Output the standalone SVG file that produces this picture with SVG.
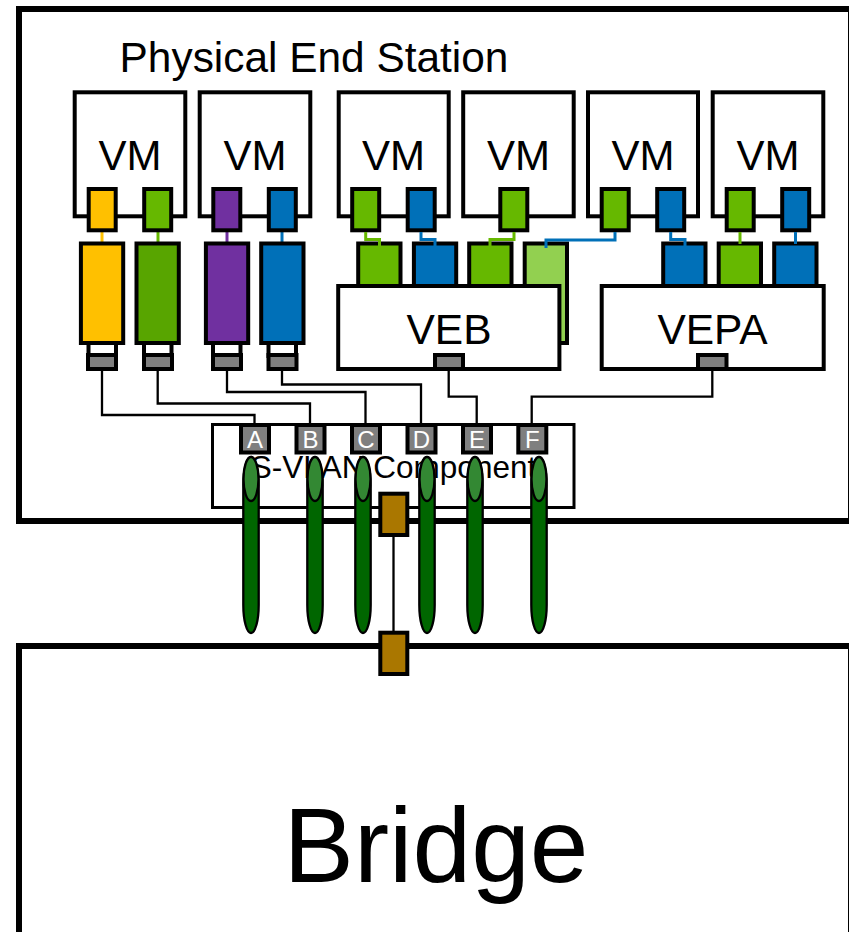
<svg xmlns="http://www.w3.org/2000/svg" width="849" height="932" viewBox="0 0 849 932">
<style>
text{font-family:"Liberation Sans",Arial,sans-serif;fill:#000;text-anchor:middle}
.b{stroke:#000;stroke-width:4}
.box{fill:#fff;stroke:#000;stroke-width:4}
.outer{fill:#fff;stroke:#000;stroke-width:6}
.vm{font-size:42px}
.sw{font-size:42.500px}
.y{fill:#ffc000}.g{fill:#66b800}.dg{fill:#58a500}.lg{fill:#92d050}.p{fill:#7030a0}.bl{fill:#0070b8}.gr{fill:#7f7f7f}.br{fill:#aa7700}
.w{fill:#fff}
.port{font-size:24px;fill:#fff}
.lk{fill:none;stroke:#000;stroke-width:2.300}
.cl{fill:none;stroke-width:3}
.pill{fill:#006600;stroke:#000;stroke-width:2.300}
.cap{fill:#338833;stroke:#000;stroke-width:2.300}
</style>
<g id="station"><rect class="outer" x="19" y="9" width="832" height="512"/><text x="314" y="72" font-size="42.400">Physical End Station</text></g>
<g id="bridge"><rect class="outer" x="19" y="646" width="832" height="300"/><text x="436" y="882" font-size="105.500">Bridge</text></g>
<g id="vm1"><rect class="box" x="74.700" y="92.300" width="110.600" height="124"/><text class="vm" x="130" y="170">VM</text></g>
<g id="vm2"><rect class="box" x="199.700" y="92.300" width="110.600" height="124"/><text class="vm" x="255" y="170">VM</text></g>
<g id="vm3"><rect class="box" x="338.700" y="92.300" width="110" height="124"/><text class="vm" x="393.500" y="170">VM</text></g>
<g id="vm4"><rect class="box" x="463.200" y="92.300" width="110.500" height="124"/><text class="vm" x="518.500" y="170">VM</text></g>
<g id="vm5"><rect class="box" x="588" y="92.300" width="110" height="124"/><text class="vm" x="643" y="170">VM</text></g>
<g id="vm6"><rect class="box" x="712.700" y="92.300" width="110.600" height="124"/><text class="vm" x="768" y="170">VM</text></g>
<g id="connectors">
<path class="cl" stroke="#ffc000" d="M102 232V243"/>
<path class="cl" stroke="#66b800" d="M158 232V243"/>
<path class="cl" stroke="#7030a0" d="M227 232V243"/>
<path class="cl" stroke="#0070b8" d="M282 232V243"/>
<path class="lk" d="M102 370V415H254.500V424"/>
<path class="lk" d="M157.700 370V403.500H310V424"/>
<path class="lk" d="M227 370V392H365.500V424"/>
<path class="lk" d="M282 370V384.500H421V424"/>
<path class="lk" d="M448.700 370V396.700H476.700V424"/>
<path class="lk" d="M712.300 370V396.700H531.700V424"/>
</g>
<g id="vnic-yellow"><rect class="b w" x="88.500" y="340" width="27.500" height="16"/><rect class="b y" x="80.900" y="243.500" width="42.300" height="99.500"/><rect class="b gr" x="88" y="355" width="28" height="14"/><rect class="b y" x="88.700" y="189" width="27" height="41.300"/></g>
<g id="vnic-green"><rect class="b w" x="144" y="340" width="27.500" height="16"/><rect class="b dg" x="136.500" y="243.500" width="42.300" height="99.500"/><rect class="b gr" x="144" y="355" width="28" height="14"/><rect class="b g" x="144.200" y="189" width="27" height="41.300"/></g>
<g id="vnic-purple"><rect class="b w" x="213" y="340" width="27.500" height="16"/><rect class="b p" x="205.900" y="243.500" width="42.300" height="99.500"/><rect class="b gr" x="213" y="355" width="28" height="14"/><rect class="b p" x="213.300" y="189" width="27" height="41.300"/></g>
<g id="vnic-blue"><rect class="b w" x="268.500" y="340" width="27.500" height="16"/><rect class="b bl" x="261.200" y="243.500" width="42.300" height="99.500"/><rect class="b gr" x="268.500" y="355" width="28" height="14"/><rect class="b bl" x="268.800" y="189" width="27" height="41.300"/></g>
<g id="veb-ports">
<rect class="b g" x="358.200" y="243.500" width="42.300" height="60"/>
<rect class="b bl" x="413.900" y="243.500" width="42.300" height="60"/>
<rect class="b g" x="469.200" y="243.500" width="42.300" height="60"/>
<rect class="b lg" x="524.700" y="243.500" width="42.300" height="99.500"/>
</g>
<g id="vepa-ports">
<rect class="b bl" x="663.200" y="243.500" width="42.300" height="60"/>
<rect class="b g" x="718.700" y="243.500" width="42.300" height="60"/>
<rect class="b bl" x="774.200" y="243.500" width="42.300" height="60"/>
</g>
<g id="veb"><rect class="box" x="338.200" y="286" width="221.200" height="83"/><text class="sw" x="449" y="344">VEB</text><rect class="b gr" x="435" y="355" width="28" height="14"/></g>
<g id="vepa"><rect class="box" x="601.700" y="286" width="222" height="83"/><text class="sw" x="712.500" y="344">VEPA</text><rect class="b gr" x="698" y="355" width="28.500" height="14"/></g>
<g id="vm-ports">
<rect class="b g" x="352.200" y="189" width="27" height="41.300"/>
<rect class="b bl" x="407.700" y="189" width="27" height="41.300"/>
<rect class="b g" x="500.300" y="189" width="27" height="41.300"/>
<rect class="b g" x="601.700" y="189" width="27" height="41.300"/>
<rect class="b bl" x="657.200" y="189" width="27" height="41.300"/>
<rect class="b g" x="726.700" y="189" width="27" height="41.300"/>
<rect class="b bl" x="782.200" y="189" width="27" height="41.300"/>
</g>
<g id="colour-links">
<path class="cl" stroke="#66b800" d="M365.700 232V239.500H379.500V248"/>
<path class="cl" stroke="#0070b8" d="M421 232V239.500H435V248"/>
<path class="cl" stroke="#66b800" d="M514 232V239.500H490V248"/>
<path class="cl" stroke="#0070b8" d="M615 232V240H546V248"/>
<path class="cl" stroke="#0070b8" d="M670.700 232V239.500H685V248"/>
<path class="cl" stroke="#66b800" d="M740 232V244"/>
<path class="cl" stroke="#0070b8" d="M795.500 232V244"/>
</g>
<g id="svlan"><rect class="box" style="stroke-width:3" x="212.500" y="424.500" width="361.500" height="83"/><text x="393.500" y="478" font-size="31.500">S-VLAN Component</text></g>
<g id="port-a"><rect class="b gr" x="241" y="425" width="28" height="27.500"/><text class="port" x="255" y="447.500">A</text></g>
<g id="port-b"><rect class="b gr" x="296.500" y="425" width="28" height="27.500"/><text class="port" x="310.500" y="447.500">B</text></g>
<g id="port-c"><rect class="b gr" x="352" y="425" width="28" height="27.500"/><text class="port" x="366" y="447.500">C</text></g>
<g id="port-d"><rect class="b gr" x="407.500" y="425" width="28" height="27.500"/><text class="port" x="421.500" y="447.500">D</text></g>
<g id="port-e"><rect class="b gr" x="463" y="425" width="28" height="27.500"/><text class="port" x="477" y="447.500">E</text></g>
<g id="port-f"><rect class="b gr" x="518.300" y="425" width="28" height="27.500"/><text class="port" x="532.300" y="447.500">F</text></g>
<g id="channels">
<rect class="pill" x="243.300" y="457" width="15.400" height="176" rx="7.700" ry="28"/><ellipse class="cap" cx="251" cy="479" rx="7.500" ry="22"/>
<rect class="pill" x="307.300" y="457" width="15.400" height="176" rx="7.700" ry="28"/><ellipse class="cap" cx="315" cy="479" rx="7.500" ry="22"/>
<rect class="pill" x="355.300" y="457" width="15.400" height="176" rx="7.700" ry="28"/><ellipse class="cap" cx="363" cy="479" rx="7.500" ry="22"/>
<rect class="pill" x="419.300" y="457" width="15.400" height="176" rx="7.700" ry="28"/><ellipse class="cap" cx="427" cy="479" rx="7.500" ry="22"/>
<rect class="pill" x="467.300" y="457" width="15.400" height="176" rx="7.700" ry="28"/><ellipse class="cap" cx="475" cy="479" rx="7.500" ry="22"/>
<rect class="pill" x="531.300" y="457" width="15.400" height="176" rx="7.700" ry="28"/><ellipse class="cap" cx="539" cy="479" rx="7.500" ry="22"/>
</g>
<g id="uplink"><path class="lk" d="M393.500 536V632"/><rect class="b br" x="380.300" y="493.700" width="27" height="41.300"/><rect class="b br" x="380.300" y="632.700" width="27" height="41.300"/></g>
</svg>
